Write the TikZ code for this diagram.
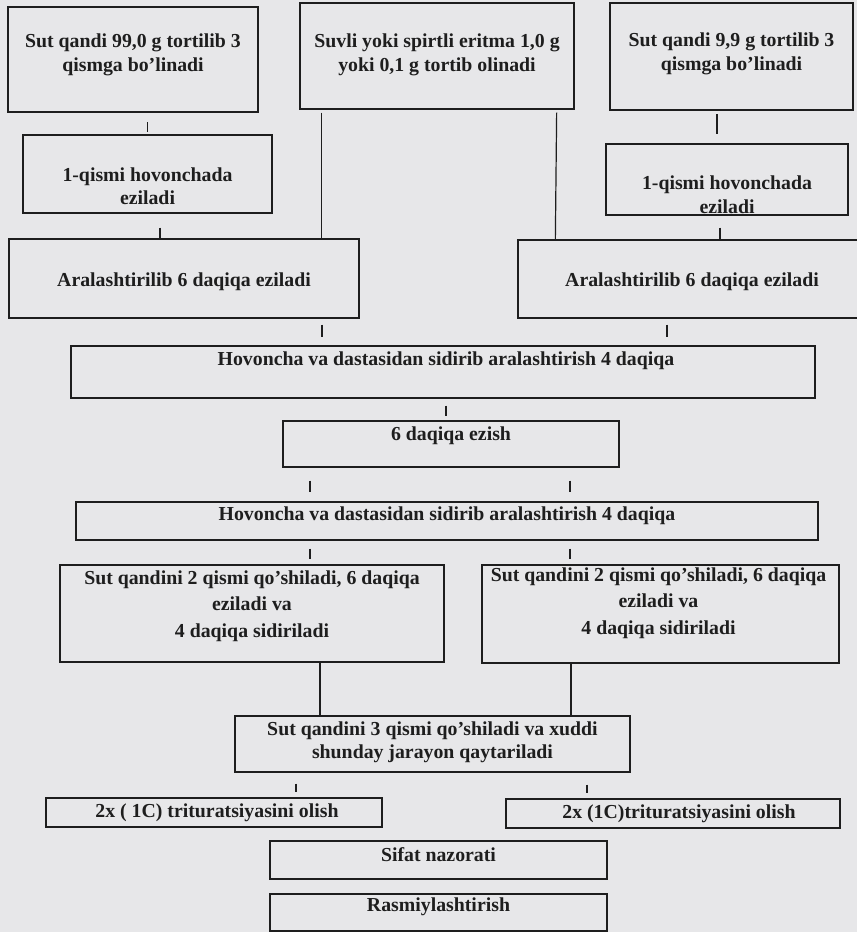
\documentclass[tikz,border=0pt]{standalone}
\usepackage{fontspec}
\setmainfont{Liberation Serif}
\definecolor{paper}{RGB}{231,231,233}
\definecolor{ink}{RGB}{30,30,30}
\tikzset{
	box/.style={draw=ink, line width=1.3pt, inner sep=0pt, label distance=0pt},
	txt/.style={font=\fontsize{19.8}{23.5}\selectfont\bfseries, align=center, text=ink, inner sep=0pt, anchor=center},
	link/.style={draw=ink, line width=1.2pt},
}
\begin{document}
\begin{tikzpicture}[x=1pt, y=-1pt]
		% page
		\useasboundingbox (0,0) rectangle (857,932);
		\clip (0,0) rectangle (857,932);
		\fill[paper] (0,0) rectangle (857,932);
		% top row
		\node[box, minimum width=250, minimum height=105, label={[txt, yshift=4.5pt]center:{Sut qandi 99,0 g tortilib 3\\qismga bo’linadi}}] (sutA) at (133,59.5) {};
		\node[box, minimum width=274, minimum height=106, label={[txt, yshift=1pt]center:{Suvli yoki spirtli eritma 1,0 g\\yoki 0,1 g tortib olinadi}}] (eritma) at (437,56) {};
		\node[box, minimum width=243, minimum height=107, label={[txt, yshift=2.5pt]center:{Sut qandi 9,9 g tortilib 3\\qismga bo’linadi}}] (sutB) at (731.5,56.5) {};
		% first part crushed
		\node[box, minimum width=249, minimum height=78, label={[txt, yshift=-12pt]center:{1-qismi hovonchada\\eziladi}}] (mashA) at (147.5,174) {};
		\node[box, minimum width=242, minimum height=71, label={[txt, yshift=-15pt]center:{1-qismi hovonchada\\eziladi}}] (mashB) at (727,179.5) {};
		% mixing
		\node[box, minimum width=350, minimum height=79, label={[txt, yshift=-3.5pt]center:{Aralashtirilib 6 daqiqa eziladi}}] (aralA) at (184,278.5) {};
		\node[box, minimum width=348, minimum height=78, label={[txt, yshift=-3pt]center:{Aralashtirilib 6 daqiqa eziladi}}] (aralB) at (692,279) {};
		% middle column
		\node[box, minimum width=744, minimum height=52, label={[txt, xshift=3pt, yshift=11pt]center:{Hovoncha va dastasidan sidirib aralashtirish 4 daqiqa}}] (sidirA) at (443,372) {};
		\node[box, minimum width=336, minimum height=46, label={[txt, yshift=8pt]center:{6 daqiqa ezish}}] (ezish) at (451,444) {};
		\node[box, minimum width=742, minimum height=38, label={[txt, yshift=5pt]center:{Hovoncha va dastasidan sidirib aralashtirish 4 daqiqa}}] (sidirB) at (447,521) {};
		% second part added
		\node[box, minimum width=384, minimum height=97, label={[txt, yshift=7.5pt]center:{Sut qandini 2 qismi qo’shiladi, 6 daqiqa\\[3pt]eziladi va\\[3pt]4 daqiqa sidiriladi}}] (qoshA) at (252,613.5) {};
		\node[box, minimum width=357, minimum height=98, label={[txt, xshift=-2pt, yshift=11pt]center:{Sut qandini 2 qismi qo’shiladi, 6 daqiqa\\[3pt]eziladi va\\[3pt]4 daqiqa sidiriladi}}] (qoshB) at (660.5,614) {};
		% third part
		\node[box, minimum width=395, minimum height=56, label={[txt, yshift=1.5pt]center:{Sut qandini 3 qismi qo’shiladi va xuddi\\shunday jarayon qaytariladi}}] (qaytar) at (432.5,744) {};
		% results
		\node[box, minimum width=336, minimum height=29, label={[txt, xshift=3pt]center:{2x ( 1C) trituratsiyasini olish}}] (tritA) at (214,812.5) {};
		\node[box, minimum width=334, minimum height=29, label={[txt, xshift=6pt]center:{2x (1C)trituratsiyasini olish}}] (tritB) at (673,813.5) {};
		\node[box, minimum width=337, minimum height=38, label={[txt, yshift=5pt]center:{Sifat nazorati}}] (sifat) at (438.5,860) {};
		\node[box, minimum width=337, minimum height=37, label={[txt, yshift=5.5pt]center:{Rasmiylashtirish}}] (rasm) at (438.5,912.5) {};
		% long lines from the solution
		\draw[link] ([shift={(22,3)}]eritma.south west) -- ([shift={(313,0)}]aralA.north west);
		\draw[link] ([shift={(-18,3)}]eritma.south east) -- ([shift={(38,0)}]aralB.north west);
		% short ticks
		\draw[link] ([shift={(0,-12)}]mashA.north) -- ([shift={(0,-2)}]mashA.north);
		\draw[link] ([shift={(-10,-29)}]mashB.north) -- ([shift={(-10,-9)}]mashB.north);
		\draw[link] ([shift={(12.5,14)}]mashA.south) -- ([shift={(-24,0)}]aralA.north);
		\draw[link] ([shift={(-7,12)}]mashB.south) -- ([shift={(28,0)}]aralB.north);
		\draw[link] ([shift={(138,6)}]aralA.south) -- ([shift={(-121,-8)}]sidirA.north);
		\draw[link] ([shift={(-25,6)}]aralB.south) -- ([shift={(224,-8)}]sidirA.north);
		\draw[link] ([shift={(3,7)}]sidirA.south) -- ([shift={(-5,-4)}]ezish.north);
		\draw[link] ([shift={(-141,13)}]ezish.south) -- ([shift={(-137,-9)}]sidirB.north);
		\draw[link] ([shift={(119,13)}]ezish.south) -- ([shift={(123,-9)}]sidirB.north);
		\draw[link] ([shift={(-137,8)}]sidirB.south) -- ([shift={(58,-5)}]qoshA.north);
		\draw[link] ([shift={(123,8)}]sidirB.south) -- ([shift={(-90.5,-5)}]qoshB.north);
		% into the third part
		\draw[link] ([shift={(68,0)}]qoshA.south) -- ([shift={(-112.5,0)}]qaytar.north);
		\draw[link] ([shift={(-89.5,0)}]qoshB.south) -- ([shift={(138.5,0)}]qaytar.north);
		\draw[link] ([shift={(-136.5,11)}]qaytar.south) -- ([shift={(82,-5)}]tritA.north);
		\draw[link] ([shift={(154.5,12)}]qaytar.south) -- ([shift={(-86,-5)}]tritB.north);
	\end{tikzpicture}
\end{document}
